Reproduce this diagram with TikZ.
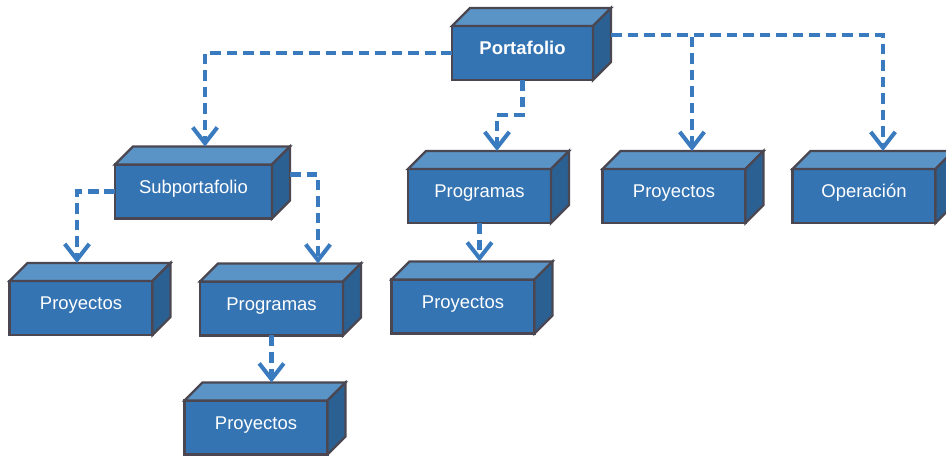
\documentclass[tikz,border=0pt]{standalone}
\usepackage{fontspec}
\setmainfont{Liberation Sans}
\usetikzlibrary{arrows.meta}

\begin{document}
\begin{tikzpicture}[x=0.02cm,y=-0.02cm,
        myBox/.style={rectangle,draw=boxLine,fill=boxFront,line width=1.3pt,outer sep=0pt,
            minimum width=2.86cm,minimum height=1.08cm,text=white,
            font=\fontsize{10.5}{12}\selectfont,text height=0.75em,text depth=0.55em},
        myFace/.style={draw=boxLine,line width=1.3pt},
        myArrow/.style={draw=arrowBlue,line width=2.3pt,dash pattern=on 6pt off 3.4pt,
            -{Straight Barb[length=9pt,width=14pt]}}]
            \definecolor{boxFront}{HTML}{3574B2}
            \definecolor{boxTop}{HTML}{5A93C5}
            \definecolor{boxSide}{HTML}{2B6192}
            \definecolor{boxLine}{HTML}{4B4752}
            \definecolor{arrowBlue}{HTML}{3A7BBF}
            \useasboundingbox (0,0) rectangle (946,456);
            % front faces
            \node[myBox,minimum width=2.82cm,font=\fontsize{10.5}{12}\selectfont\bfseries] (port) at (522.5,53) {Portafolio};
            \node[myBox,minimum width=3.14cm] (subPort) at (193.5,191.5) {Subportafolio};
            \node[myBox] (proy1) at (81,308) {Proyectos};
            \node[myBox] (prog1) at (271.5,308.5) {Programas};
            \node[myBox] (proy2) at (256,427.5) {Proyectos};
            \node[myBox] (prog2) at (479.5,196) {Programas};
            \node[myBox] (proy3) at (463,306.5) {Proyectos};
            \node[myBox] (proy4) at (674,196) {Proyectos};
            \node[myBox] (oper) at (864,196) {Operación};
            % top and side faces
            \foreach \n in {port,subPort,proy1,prog1,proy2,prog2,proy3,proy4,oper}
                {   \filldraw[myFace,fill=boxTop] (\n.north west) -- ++(18,-18) -- ([shift={(18,-18)}]\n.north east) -- (\n.north east) -- cycle;
                    \filldraw[myFace,fill=boxSide] (\n.north east) -- ++(18,-18) -- ([shift={(18,-18)}]\n.south east) -- (\n.south east) -- cycle;
                    \coordinate (\n-t) at ([shift={(0,-18)}]\n.north);
                }
            % connectors
            \coordinate (portR) at ([shift={(18,9)}]port.north east);
            \coordinate (subR) at ([shift={(18,10)}]subPort.north east);
            \draw[myArrow] (port.west) -| ([shift={(11.5,0)}]subPort-t);
            \draw[myArrow] (port.south) -- ++(0,35) -| ([shift={(17.5,0)}]prog2-t);
            \draw[myArrow] (portR) -| ([shift={(18,0)}]proy4-t);
            \draw[myArrow] (portR) -| ([shift={(19,0)}]oper-t);
            \draw[myArrow] (subPort.west) -| ([shift={(-4,0)}]proy1-t);
            \draw[myArrow] (subR) -| ([shift={(46.5,0)}]prog1-t);
            \draw[myArrow] (prog1.south) -- (prog1.south |- proy2-t);
            \draw[myArrow] (prog2.south) -- (prog2.south |- proy3-t);
        \end{tikzpicture}
\end{document}
